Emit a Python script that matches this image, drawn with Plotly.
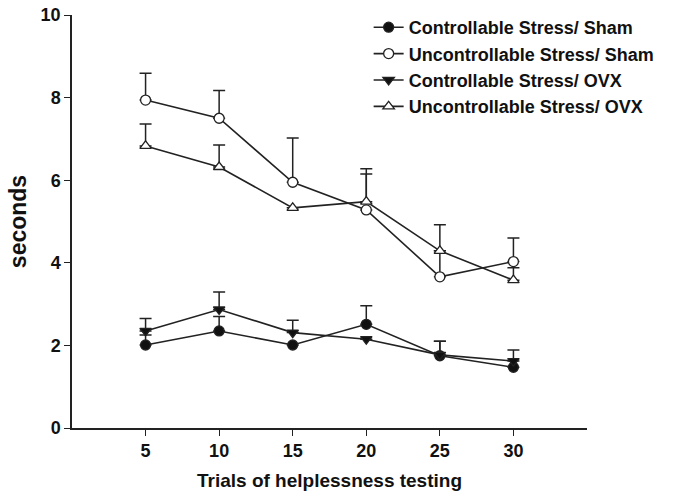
import plotly.graph_objects as go

trials = [5, 10, 15, 20, 25, 30]

ctrl_sham = [2.01, 2.35, 2.01, 2.51, 1.75, 1.47]
ctrl_sham_err = [0.24, 0.35, 0.0, 0.45, 0.35, 0.0]
unctrl_sham = [7.94, 7.50, 5.95, 5.28, 3.66, 4.03]
unctrl_sham_err = [0.65, 0.67, 1.07, 0.87, 0.63, 0.57]
ctrl_ovx = [2.35, 2.87, 2.31, 2.15, 1.77, 1.62]
ctrl_ovx_err = [0.30, 0.42, 0.30, 0.0, 0.33, 0.27]
unctrl_ovx = [6.83, 6.32, 5.33, 5.48, 4.29, 3.58]
unctrl_ovx_err = [0.53, 0.53, 0.0, 0.80, 0.63, 0.30]

series = [
    ("Controllable Stress/ Sham", ctrl_sham, ctrl_sham_err, "circle", "#111111"),
    ("Uncontrollable Stress/ Sham", unctrl_sham, unctrl_sham_err, "circle", "white"),
    ("Controllable Stress/ OVX", ctrl_ovx, ctrl_ovx_err, "triangle-down", "#111111"),
    ("Uncontrollable Stress/ OVX", unctrl_ovx, unctrl_ovx_err, "triangle-up", "white"),
]

ink = "#222222"
fig = go.Figure()

for name, vals, err, sym, fill in series:
    fig.add_trace(go.Scatter(
        x=trials, y=vals, name=name, mode="lines+markers",
        line=dict(color=ink, width=1.6),
        marker=dict(symbol=sym, size=10, color=fill, line=dict(color=ink, width=1.3)),
        error_y=dict(type="data", symmetric=False, array=err,
                     arrayminus=[0] * len(err), color=ink, thickness=1.5, width=6),
    ))

# plot area runs to the top edge; the y axis domain leaves a 15px gap above "10"
fig.update_layout(
    width=673, height=497,
    margin=dict(l=72, r=86, t=0, b=69),
    paper_bgcolor="white", plot_bgcolor="white",
    font=dict(family="Liberation Sans, Arial, sans-serif", color="#111111"),
    legend=dict(x=0.576, y=0.979, xanchor="left", yanchor="top",
                font=dict(size=18, family="Liberation Sans, Arial, sans-serif", weight="bold"),
                bgcolor="rgba(0,0,0,0)"),
)

fig.update_xaxes(range=[0, 35], tickvals=trials, showline=True, linecolor=ink, linewidth=1.5,
                 ticks="outside", ticklen=6, tickcolor=ink, showgrid=False, zeroline=False,
                 automargin=False, tickfont=dict(size=18, weight="bold"),
                 title=dict(text="Trials of helplessness testing", font=dict(size=19, weight="bold"),
                            standoff=13))
fig.update_yaxes(range=[0, 10], domain=[0, 413 / 428], tickvals=[0, 2, 4, 6, 8, 10],
                 showline=True, linecolor=ink,
                 linewidth=1.5, ticks="outside", ticklen=6, tickcolor=ink, showgrid=False,
                 zeroline=False, automargin=False, tickfont=dict(size=18, weight="bold"),
                 title=dict(text="seconds", font=dict(size=23, weight="bold"), standoff=8))

# drop the default 8px page margin so the figure sits at the window corner
fig.write_html("out.html", config={"displayModeBar": False},
               post_script="document.body.style.margin='0px';")
